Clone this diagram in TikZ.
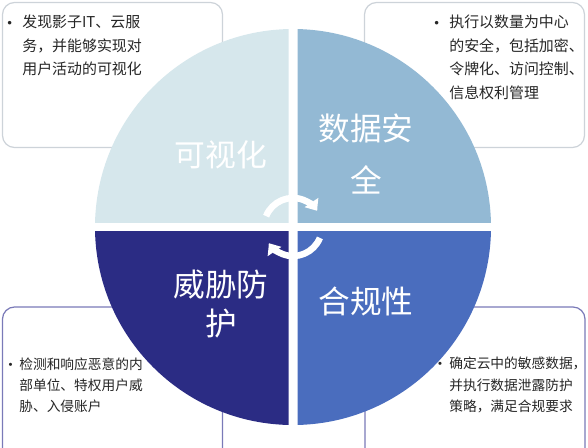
\documentclass[tikz,border=0pt]{standalone}
\usepackage{fontspec}
\setmainfont{Noto Sans CJK SC}
\usetikzlibrary{arrows.meta,positioning}

\definecolor{visfill}{HTML}{D6E7EC}
\definecolor{secfill}{HTML}{93B9D4}
\definecolor{thrfill}{HTML}{2B2C84}
\definecolor{cmpfill}{HTML}{4A6DBE}
\definecolor{grayrim}{HTML}{CDD3D9}
\definecolor{purprim}{HTML}{7A7AB8}
\definecolor{bodytext}{HTML}{262626}

\begin{document}
\begin{tikzpicture}[line cap=round,
  infobox/.style={draw=#1, line width=0.7pt, fill=white, rounded corners=0.24cm,
    minimum width=4.40cm, minimum height=2.9cm, inner sep=0pt},
  bodytop/.style={inner sep=0pt, anchor=north west, align=left, text=bodytext,
    font=\fontsize{8.5}{13.3}\selectfont},
  bodybot/.style={inner sep=0pt, anchor=north west, align=left, text=bodytext,
    font=\fontsize{7.8}{12.2}\selectfont},
  dot/.style={inner sep=0pt, anchor=north east, text=bodytext},
  biglabel/.style={text=white, align=center, inner sep=0pt},
  turn/.style={white, line width=0.13cm, line cap=butt,
    -{Triangle[width=0.32cm, length=0.2cm]}}]
  % parameters
  \def\R{3.96}   % disk radius
  \def\g{0.09}   % half width of the white cross
  \def\r{0.58}   % radius of the turning arrows

  \useasboundingbox (-5.86,-4.40) rectangle (5.90,4.54);

  % text boxes behind the disk
  \node[infobox=grayrim] (visbox) at (-3.61,3.04) {};
  \node[infobox=grayrim] (secbox) at (3.63,3.04) {};
  \node[infobox=purprim, minimum height=3.4cm] (thrbox) at (-3.61,-3.30) {};
  \node[infobox=purprim, minimum height=3.4cm] (cmpbox) at (3.64,-3.30) {};

  % four quarters of the disk
  \foreach \sx/\sy/\col in {-1/1/visfill, 1/1/secfill, -1/-1/thrfill, 1/-1/cmpfill} {
    \begin{scope}
      \clip (\sx*\g,\sy*\g) rectangle (\sx*5,\sy*5);
      \fill[\col] (0,0) circle (\R);
    \end{scope}
  }

  % turning arrows in the middle
  \draw[turn] (158:\r) arc (158:34:\r);
  \draw[turn] (-22:\r) arc (-22:-146:\r);

  % quarter labels
  \node[biglabel, font=\fontsize{17.5}{20}\selectfont] (vislbl) at (-1.44,1.44) {可视化};
  \node[biglabel, font=\fontsize{18}{29.5}\selectfont] (seclbl) at (1.46,1.46) {数据安\\全};
  \node[biglabel, font=\fontsize{18}{22.7}\selectfont] (thrlbl) at (-1.44,-1.54) {威胁防\\护};
  \node[biglabel, font=\fontsize{18}{20}\selectfont] (cmplbl) at (1.46,-1.48) {合规性};

  % box texts
  \node[bodytop] (vistext) at (-5.42,4.24) {发现影子IT、云服\\务，并能够实现对\\用户活动的可视化};
  \node[bodytop] (sectext) at (3.12,4.24) {执行以数量为中心\\的安全，包括加密、\\令牌化、访问控制、\\信息权利管理};
  \node[bodybot] (thrtext) at (-5.48,-2.60) {检测和响应恶意的内\\部单位、特权用户威\\胁、入侵账户};
  \node[bodybot] (cmptext) at (3.12,-2.60) {确定云中的敏感数据，\\并执行数据泄露防护\\策略，满足合规要求};

  % bullets
  \node[dot, font=\fontsize{9.5}{10}\selectfont] (visdot) at ([xshift=-0.07cm]vistext.north west) {\vphantom{发}•};
  \node[dot, font=\fontsize{9.5}{10}\selectfont] (secdot) at ([xshift=-0.07cm]sectext.north west) {\vphantom{执}•};
  \node[dot, font=\fontsize{8.5}{10}\selectfont] (thrdot) at ([xshift=-0.01cm]thrtext.north west) {\vphantom{检}•};
  \node[dot, font=\fontsize{8.5}{10}\selectfont] (cmpdot) at ([xshift=-0.02cm]cmptext.north west) {\vphantom{确}•};
\end{tikzpicture}
\end{document}
